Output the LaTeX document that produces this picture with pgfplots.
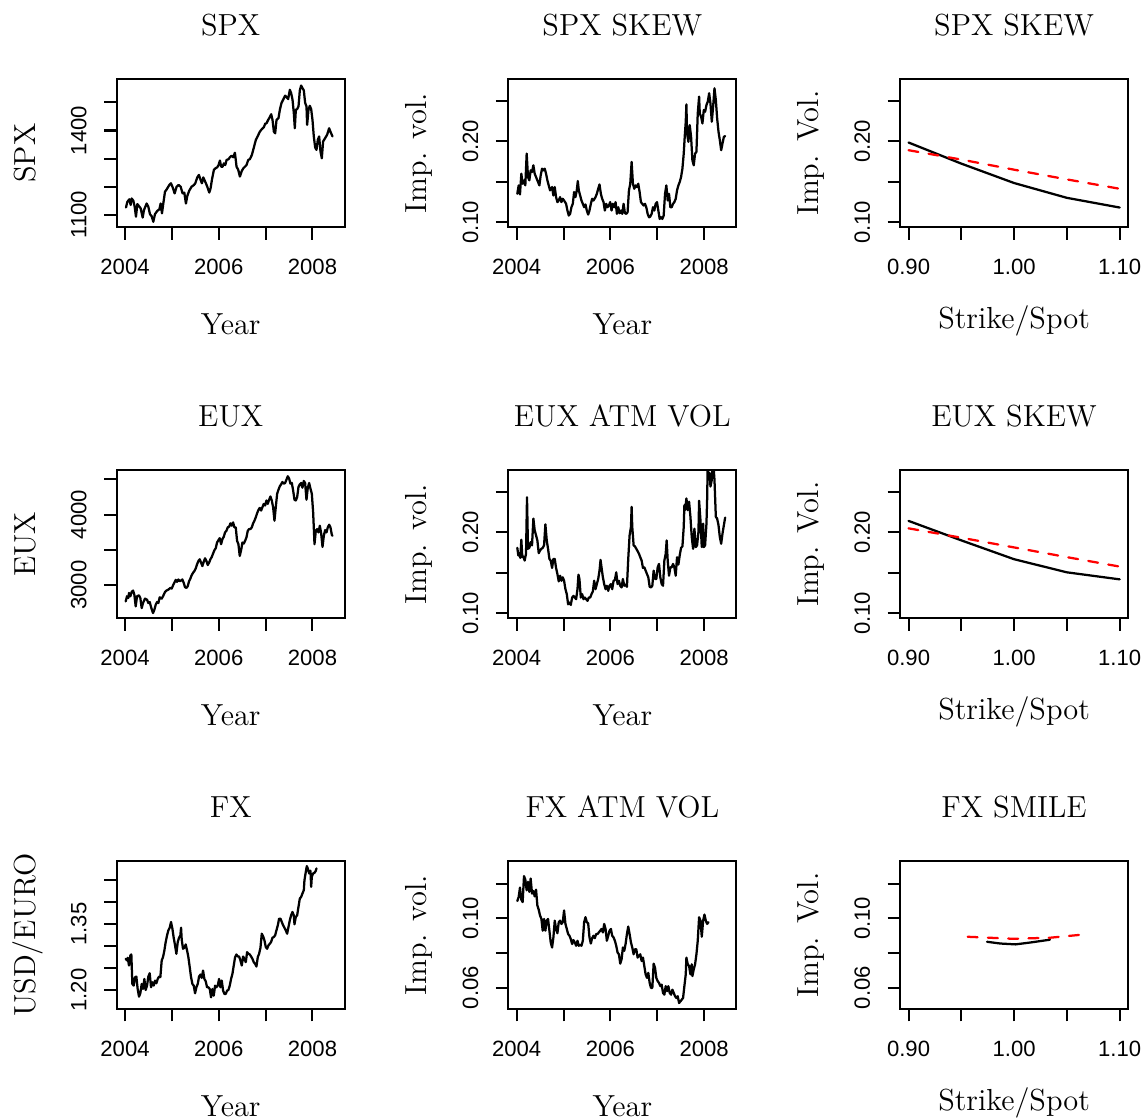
\documentclass[border=0pt]{standalone}
\usepackage{fontspec}
\usepackage{pgfplots}
\pgfplotsset{compat=1.18}
\newfontfamily\ticksf{Liberation Sans}
\newcommand{\labelfont}{\fontsize{13.5}{16}\selectfont}
\newcommand{\tickfont}{\ticksf\fontsize{9.8}{11}\selectfont}
\definecolor{rred}{RGB}{255,0,0}

\pgfplotsset{
  rpanel/.style={
    scale only axis, width=101.1pt, height=65.62pt,
    axis line style={line width=0.9pt},
    tick align=outside, xtick pos=left, ytick pos=left,
    major tick length=5.5pt,
    every tick/.append style={black, line width=0.9pt},
    scaled ticks=false,
    tick label style={font=\tickfont},
    xticklabel style={anchor=base, inner sep=0pt},
    yticklabel style={rotate=90, anchor=base, inner sep=0pt},
    xticklabel shift=15.5pt, yticklabel shift=7.9pt,
    title style={font=\labelfont, at={(axis description cs:0.5,1.205)}, anchor=base, inner sep=0pt, yshift=0pt},
    xlabel style={font=\labelfont, at={(axis description cs:0.5,-0.725)}, anchor=base, inner sep=0pt},
    ylabel style={font=\labelfont, at={(axis description cs:-0.358,0.5)}, anchor=base, inner sep=0pt},
    every axis plot/.append style={line width=1.0pt, line join=round, line cap=round},
  },
  yearaxis/.style={
    xmin=2003.823, xmax=2008.688,
    xtick={2004,2005,2006,2007,2008}, xticklabels={2004,,2006,,2008},
    xlabel={Year},
  },
  strikeaxis/.style={
    xmin=0.892, xmax=1.108,
    xtick={0.90,0.95,1.00,1.05,1.10}, xticklabels={0.90,,1.00,,1.10},
    xlabel={Strike/Spot},
    xlabel style={at={(axis description cs:0.5,-0.683)}},
    ylabel={Imp. Vol.},
  },
  volaxis/.style={
    ymin=0.0940, ymax=0.2770,
    ytick={0.10,0.15,0.20,0.25}, yticklabels={0.10,,0.20,},
  },
  fxvolaxis/.style={
    ymin=0.0476, ymax=0.1330,
    ytick={0.06,0.08,0.10,0.12}, yticklabels={0.06,,0.10,},
  },
  dat/.style={black},
  mkt/.style={rred, dash pattern=on 4.4pt off 4.6pt},
}

\begin{document}
\begin{tikzpicture}

% ---------------- row 1 ----------------
\begin{axis}[rpanel, yearaxis, at={(51.75pt,395.5pt)}, anchor=south west,
  title={SPX}, ylabel={SPX},
  ymin=1056, ymax=1583,
  ytick={1100,1200,1300,1400,1500}, yticklabels={1100,,,1400,}]
\addplot[dat] coordinates {
(2004.021,1126)(2004.050,1146)(2004.092,1155)(2004.121,1135)(2004.142,1158)(2004.178,1150)(2004.206,1129)(2004.234,1093)(2004.263,1138)(2004.306,1129)(2004.334,1123)(2004.377,1090)(2004.405,1117)(2004.462,1140)(2004.497,1129)(2004.533,1102)(2004.568,1095)(2004.604,1075)(2004.639,1102)(2004.689,1114)(2004.732,1119)(2004.760,1140)(2004.789,1105)(2004.817,1140)(2004.853,1182)(2004.888,1190)(2004.945,1206)(2004.980,1212)(2005.016,1198)(2005.059,1176)(2005.101,1200)(2005.144,1206)(2005.187,1200)(2005.229,1176)(2005.265,1179)(2005.300,1140)(2005.329,1167)(2005.371,1186)(2005.421,1200)(2005.471,1206)(2005.499,1212)(2005.542,1233)(2005.577,1242)(2005.613,1224)(2005.641,1212)(2005.670,1233)(2005.726,1212)(2005.755,1200)(2005.798,1179)(2005.826,1194)(2005.854,1224)(2005.897,1260)(2005.925,1265)(2005.968,1269)(2005.996,1277)(2006.025,1293)(2006.053,1271)(2006.082,1271)(2006.110,1283)(2006.139,1277)(2006.167,1295)(2006.210,1298)(2006.238,1305)(2006.274,1310)(2006.309,1305)(2006.345,1321)(2006.380,1271)(2006.416,1260)(2006.451,1236)(2006.487,1254)(2006.522,1265)(2006.558,1271)(2006.593,1277)(2006.629,1295)(2006.664,1298)(2006.707,1313)(2006.750,1340)(2006.792,1367)(2006.835,1381)(2006.877,1396)(2006.920,1405)(2006.963,1412)(2006.991,1424)(2007.020,1426)(2007.055,1438)(2007.091,1448)(2007.119,1458)(2007.147,1438)(2007.176,1396)(2007.204,1390)(2007.233,1438)(2007.275,1444)(2007.304,1474)(2007.339,1498)(2007.375,1510)(2007.417,1524)(2007.446,1519)(2007.481,1512)(2007.517,1545)(2007.545,1533)(2007.574,1510)(2007.602,1462)(2007.623,1408)(2007.645,1474)(2007.673,1476)(2007.702,1486)(2007.730,1543)(2007.758,1560)(2007.787,1551)(2007.815,1543)(2007.844,1498)(2007.872,1486)(2007.886,1420)(2007.915,1474)(2007.943,1488)(2007.972,1476)(2008.000,1438)(2008.028,1379)(2008.057,1340)(2008.085,1331)(2008.114,1367)(2008.142,1379)(2008.171,1325)(2008.199,1301)(2008.227,1361)(2008.270,1373)(2008.313,1385)(2008.355,1408)(2008.398,1390)(2008.427,1379)
};
\end{axis}

\begin{axis}[rpanel, yearaxis, volaxis, at={(225.4pt,395.5pt)}, anchor=south west,
  title={SPX SKEW}, ylabel={Imp. vol.}]
\addplot[dat] coordinates {
(2004.014,0.1352)(2004.043,0.1456)(2004.071,0.1344)(2004.100,0.1601)(2004.128,0.1476)(2004.157,0.1518)(2004.185,0.1456)(2004.214,0.1849)(2004.242,0.1559)(2004.271,0.1518)(2004.299,0.1642)(2004.328,0.1621)(2004.357,0.1704)(2004.385,0.1601)(2004.414,0.1559)(2004.442,0.1518)(2004.485,0.1456)(2004.513,0.1580)(2004.542,0.1663)(2004.570,0.1642)(2004.599,0.1663)(2004.627,0.1601)(2004.656,0.1518)(2004.684,0.1456)(2004.713,0.1394)(2004.756,0.1435)(2004.784,0.1331)(2004.813,0.1435)(2004.841,0.1311)(2004.870,0.1249)(2004.898,0.1269)(2004.927,0.1311)(2004.955,0.1249)(2004.984,0.1290)(2005.012,0.1269)(2005.055,0.1228)(2005.084,0.1145)(2005.112,0.1083)(2005.141,0.1104)(2005.169,0.1186)(2005.198,0.1228)(2005.226,0.1373)(2005.255,0.1311)(2005.283,0.1394)(2005.305,0.1510)(2005.326,0.1394)(2005.355,0.1331)(2005.383,0.1269)(2005.412,0.1228)(2005.440,0.1186)(2005.469,0.1220)(2005.497,0.1145)(2005.526,0.1095)(2005.554,0.1145)(2005.583,0.1228)(2005.611,0.1290)(2005.640,0.1269)(2005.683,0.1311)(2005.711,0.1352)(2005.740,0.1414)(2005.768,0.1468)(2005.797,0.1352)(2005.825,0.1290)(2005.854,0.1249)(2005.882,0.1145)(2005.911,0.1228)(2005.939,0.1186)(2005.968,0.1207)(2005.996,0.1249)(2006.025,0.1145)(2006.053,0.1228)(2006.082,0.1186)(2006.111,0.1249)(2006.139,0.1104)(2006.168,0.1186)(2006.196,0.1112)(2006.225,0.1145)(2006.253,0.1104)(2006.282,0.1228)(2006.310,0.1112)(2006.339,0.1104)(2006.367,0.1124)(2006.396,0.1394)(2006.424,0.1476)(2006.453,0.1746)(2006.481,0.1476)(2006.510,0.1414)(2006.538,0.1456)(2006.567,0.1435)(2006.595,0.1476)(2006.624,0.1373)(2006.652,0.1249)(2006.681,0.1228)(2006.709,0.1207)(2006.738,0.1228)(2006.766,0.1186)(2006.795,0.1104)(2006.824,0.1062)(2006.852,0.1070)(2006.881,0.1104)(2006.909,0.1186)(2006.938,0.1145)(2006.966,0.1228)(2006.995,0.1249)(2007.023,0.1145)(2007.052,0.1041)(2007.080,0.1062)(2007.109,0.1041)(2007.137,0.1083)(2007.166,0.1352)(2007.194,0.1456)(2007.223,0.1269)(2007.251,0.1352)(2007.280,0.1186)(2007.308,0.1186)(2007.337,0.1228)(2007.365,0.1249)(2007.394,0.1290)(2007.422,0.1394)(2007.451,0.1456)(2007.479,0.1497)(2007.508,0.1559)(2007.537,0.1663)(2007.565,0.1849)(2007.586,0.2056)(2007.608,0.2243)(2007.622,0.2458)(2007.636,0.2098)(2007.665,0.1994)(2007.693,0.2201)(2007.722,0.2056)(2007.750,0.1766)(2007.779,0.1704)(2007.807,0.1849)(2007.836,0.1870)(2007.864,0.2346)(2007.893,0.2554)(2007.907,0.2346)(2007.936,0.2305)(2007.964,0.2222)(2007.993,0.2388)(2008.021,0.2367)(2008.050,0.2450)(2008.078,0.2491)(2008.107,0.2595)(2008.135,0.2471)(2008.164,0.2243)(2008.192,0.2429)(2008.221,0.2657)(2008.250,0.2512)(2008.278,0.2284)(2008.307,0.2119)(2008.335,0.2015)(2008.364,0.1891)(2008.392,0.1974)(2008.421,0.2056)(2008.449,0.2065)
};
\end{axis}

\begin{axis}[rpanel, strikeaxis, volaxis, at={(399.1pt,395.5pt)}, anchor=south west,
  title={SPX SKEW}]
\addplot[dat] coordinates {(0.90,0.1986)(0.95,0.1725)(1.00,0.1485)(1.05,0.1302)(1.10,0.1182)};
\addplot[mkt] coordinates {(0.90,0.1891)(0.95,0.1775)(1.00,0.1650)(1.05,0.1530)(1.10,0.1414)};
\end{axis}

% ---------------- row 2 ----------------
\begin{axis}[rpanel, yearaxis, at={(51.75pt,222.1pt)}, anchor=south west,
  title={EUX}, ylabel={EUX},
  ymin=2533, ymax=4629,
  ytick={3000,3500,4000,4500}, yticklabels={3000,,4000,}]
\addplot[dat] coordinates {
(2004.014,2771)(2004.043,2843)(2004.071,2819)(2004.085,2890)(2004.114,2843)(2004.142,2905)(2004.171,2924)(2004.199,2867)(2004.228,2700)(2004.256,2843)(2004.299,2857)(2004.327,2819)(2004.356,2676)(2004.384,2748)(2004.427,2810)(2004.470,2795)(2004.498,2748)(2004.527,2762)(2004.562,2676)(2004.598,2605)(2004.626,2652)(2004.655,2724)(2004.683,2762)(2004.712,2748)(2004.740,2829)(2004.783,2810)(2004.811,2843)(2004.854,2905)(2004.883,2924)(2004.925,2938)(2004.968,2962)(2004.996,2952)(2005.039,3019)(2005.082,3076)(2005.110,3048)(2005.139,3081)(2005.167,3057)(2005.196,3067)(2005.224,3081)(2005.253,3033)(2005.281,2971)(2005.310,2962)(2005.338,2986)(2005.367,3057)(2005.395,3095)(2005.423,3143)(2005.452,3176)(2005.480,3200)(2005.509,3238)(2005.537,3295)(2005.566,3343)(2005.594,3367)(2005.623,3319)(2005.651,3271)(2005.680,3333)(2005.708,3381)(2005.737,3343)(2005.765,3286)(2005.794,3319)(2005.822,3367)(2005.851,3400)(2005.879,3448)(2005.907,3495)(2005.936,3524)(2005.964,3605)(2005.993,3638)(2006.021,3667)(2006.050,3581)(2006.078,3652)(2006.107,3686)(2006.135,3748)(2006.164,3771)(2006.192,3819)(2006.221,3829)(2006.249,3876)(2006.278,3843)(2006.306,3890)(2006.335,3819)(2006.363,3819)(2006.391,3629)(2006.420,3581)(2006.448,3414)(2006.477,3495)(2006.505,3605)(2006.534,3590)(2006.562,3629)(2006.591,3676)(2006.619,3771)(2006.648,3795)(2006.676,3795)(2006.705,3819)(2006.733,3876)(2006.762,3914)(2006.790,3962)(2006.819,4019)(2006.847,4067)(2006.875,4095)(2006.904,4057)(2006.932,4105)(2006.961,4152)(2006.989,4129)(2007.018,4200)(2007.046,4152)(2007.075,4210)(2007.103,4257)(2007.132,4200)(2007.160,4105)(2007.189,3914)(2007.217,4105)(2007.246,4295)(2007.274,4352)(2007.302,4400)(2007.331,4429)(2007.359,4462)(2007.388,4438)(2007.416,4448)(2007.445,4495)(2007.473,4543)(2007.502,4510)(2007.530,4438)(2007.559,4448)(2007.587,4343)(2007.616,4210)(2007.644,4200)(2007.673,4248)(2007.701,4390)(2007.730,4429)(2007.758,4448)(2007.786,4381)(2007.815,4476)(2007.843,4448)(2007.872,4210)(2007.900,4381)(2007.929,4448)(2007.957,4367)(2007.986,4295)(2008.014,4033)(2008.028,3819)(2008.043,3581)(2008.071,3771)(2008.100,3795)(2008.128,3748)(2008.157,3843)(2008.185,3733)(2008.214,3543)(2008.242,3700)(2008.270,3781)(2008.299,3748)(2008.327,3819)(2008.356,3857)(2008.384,3819)(2008.413,3714)(2008.427,3700)
};
\end{axis}

\begin{axis}[rpanel, yearaxis, volaxis, at={(225.4pt,222.1pt)}, anchor=south west,
  title={EUX ATM VOL}, ylabel={Imp. vol.}]
\addplot[dat] coordinates {
(2004.014,0.1810)(2004.036,0.1715)(2004.057,0.1736)(2004.078,0.1686)(2004.100,0.1910)(2004.121,0.1694)(2004.143,0.1702)(2004.171,0.1652)(2004.200,0.1736)(2004.221,0.2434)(2004.242,0.1798)(2004.271,0.1810)(2004.299,0.1881)(2004.328,0.1840)(2004.357,0.2172)(2004.385,0.2027)(2004.414,0.1964)(2004.442,0.1902)(2004.471,0.1744)(2004.499,0.1777)(2004.528,0.1798)(2004.556,0.1810)(2004.585,0.1840)(2004.613,0.2101)(2004.642,0.1902)(2004.670,0.1798)(2004.699,0.1673)(2004.727,0.1652)(2004.756,0.1561)(2004.784,0.1673)(2004.813,0.1673)(2004.841,0.1561)(2004.870,0.1486)(2004.898,0.1395)(2004.927,0.1465)(2004.955,0.1403)(2004.984,0.1445)(2005.012,0.1403)(2005.041,0.1299)(2005.070,0.1237)(2005.098,0.1112)(2005.127,0.1133)(2005.155,0.1104)(2005.184,0.1195)(2005.212,0.1216)(2005.241,0.1195)(2005.269,0.1175)(2005.298,0.1299)(2005.319,0.1478)(2005.340,0.1424)(2005.369,0.1195)(2005.398,0.1237)(2005.426,0.1175)(2005.455,0.1195)(2005.483,0.1175)(2005.512,0.1154)(2005.540,0.1195)(2005.569,0.1195)(2005.597,0.1237)(2005.626,0.1270)(2005.654,0.1403)(2005.683,0.1299)(2005.711,0.1362)(2005.740,0.1424)(2005.768,0.1528)(2005.790,0.1661)(2005.811,0.1569)(2005.840,0.1445)(2005.868,0.1362)(2005.897,0.1299)(2005.925,0.1341)(2005.954,0.1278)(2005.982,0.1341)(2006.011,0.1362)(2006.039,0.1299)(2006.068,0.1403)(2006.096,0.1411)(2006.125,0.1507)(2006.153,0.1362)(2006.182,0.1403)(2006.210,0.1341)(2006.239,0.1320)(2006.267,0.1424)(2006.296,0.1341)(2006.324,0.1353)(2006.353,0.1328)(2006.381,0.1673)(2006.410,0.1964)(2006.439,0.2068)(2006.453,0.2317)(2006.467,0.2068)(2006.496,0.1840)(2006.524,0.1827)(2006.553,0.1798)(2006.581,0.1769)(2006.610,0.1736)(2006.638,0.1694)(2006.667,0.1652)(2006.695,0.1561)(2006.724,0.1569)(2006.752,0.1528)(2006.781,0.1486)(2006.809,0.1445)(2006.838,0.1328)(2006.866,0.1320)(2006.895,0.1341)(2006.923,0.1528)(2006.952,0.1424)(2006.980,0.1424)(2007.009,0.1569)(2007.037,0.1611)(2007.066,0.1445)(2007.094,0.1362)(2007.123,0.1341)(2007.152,0.1652)(2007.180,0.1736)(2007.201,0.1902)(2007.223,0.1652)(2007.251,0.1465)(2007.280,0.1569)(2007.308,0.1569)(2007.337,0.1611)(2007.365,0.1569)(2007.394,0.1465)(2007.422,0.1694)(2007.451,0.1603)(2007.479,0.1715)(2007.508,0.1810)(2007.537,0.1827)(2007.565,0.2068)(2007.579,0.2338)(2007.594,0.2276)(2007.622,0.2421)(2007.651,0.2276)(2007.679,0.2380)(2007.708,0.2193)(2007.736,0.1943)(2007.765,0.1798)(2007.793,0.2047)(2007.822,0.1819)(2007.850,0.1840)(2007.879,0.2006)(2007.893,0.2392)(2007.922,0.2151)(2007.950,0.1819)(2007.979,0.2110)(2007.993,0.1819)(2008.021,0.1840)(2008.050,0.2110)(2008.064,0.2401)(2008.078,0.2880)(2008.093,0.2650)(2008.121,0.2733)(2008.135,0.2567)(2008.164,0.2650)(2008.192,0.2900)(2008.221,0.2650)(2008.250,0.2193)(2008.278,0.2172)(2008.307,0.2089)(2008.335,0.1943)(2008.364,0.1860)(2008.392,0.1985)(2008.421,0.2089)(2008.449,0.2184)
};
\end{axis}

\begin{axis}[rpanel, strikeaxis, volaxis, at={(399.1pt,222.1pt)}, anchor=south west,
  title={EUX SKEW}]
\addplot[dat] coordinates {(0.90,0.2143)(0.95,0.1902)(1.00,0.1669)(1.05,0.1507)(1.10,0.1420)};
\addplot[mkt] coordinates {(0.90,0.2051)(0.95,0.1935)(1.00,0.1815)(1.05,0.1695)(1.10,0.1578)};
\end{axis}

% ---------------- row 3 ----------------
\begin{axis}[rpanel, yearaxis, at={(51.75pt,48.8pt)}, anchor=south west,
  title={FX}, ylabel={USD/EURO},
  ymin=1.1566, ymax=1.4934,
  ytick={1.20,1.25,1.30,1.35,1.40,1.45}, yticklabels={1.20,,,1.35,,}]
\addplot[dat] coordinates {
(2004.014,1.2709)(2004.043,1.2671)(2004.057,1.2732)(2004.085,1.2556)(2004.114,1.2785)(2004.135,1.2808)(2004.157,1.2137)(2004.185,1.2099)(2004.214,1.2290)(2004.242,1.2305)(2004.270,1.2023)(2004.299,1.1848)(2004.327,1.1924)(2004.356,1.2137)(2004.384,1.2023)(2004.413,1.2251)(2004.441,1.2000)(2004.470,1.2099)(2004.498,1.2305)(2004.527,1.2381)(2004.555,1.2061)(2004.584,1.2175)(2004.612,1.2099)(2004.641,1.2213)(2004.669,1.2152)(2004.698,1.2251)(2004.726,1.2305)(2004.754,1.2290)(2004.783,1.2671)(2004.811,1.2747)(2004.840,1.2899)(2004.868,1.3090)(2004.897,1.3242)(2004.925,1.3356)(2004.954,1.3417)(2004.982,1.3547)(2005.011,1.3394)(2005.039,1.3189)(2005.068,1.3013)(2005.096,1.2823)(2005.125,1.3090)(2005.153,1.3189)(2005.181,1.3242)(2005.196,1.3417)(2005.210,1.3143)(2005.238,1.2937)(2005.267,1.2960)(2005.295,1.3036)(2005.324,1.2899)(2005.352,1.2747)(2005.381,1.2518)(2005.409,1.2290)(2005.438,1.2137)(2005.466,1.2099)(2005.495,1.1924)(2005.523,1.2061)(2005.552,1.2137)(2005.580,1.2305)(2005.609,1.2351)(2005.637,1.2274)(2005.665,1.2442)(2005.694,1.2251)(2005.722,1.2198)(2005.751,1.2061)(2005.779,1.2061)(2005.808,1.2023)(2005.836,1.1832)(2005.865,1.2023)(2005.893,1.1870)(2005.922,1.2099)(2005.950,1.2061)(2005.979,1.2099)(2006.007,1.2251)(2006.036,1.2061)(2006.064,1.2213)(2006.093,1.1985)(2006.121,1.1909)(2006.149,1.1909)(2006.178,1.1985)(2006.206,1.2000)(2006.235,1.2099)(2006.263,1.2251)(2006.292,1.2366)(2006.320,1.2556)(2006.349,1.2747)(2006.377,1.2808)(2006.406,1.2762)(2006.434,1.2762)(2006.463,1.2671)(2006.491,1.2556)(2006.520,1.2762)(2006.548,1.2709)(2006.577,1.2632)(2006.605,1.2861)(2006.633,1.2823)(2006.662,1.2808)(2006.690,1.2762)(2006.719,1.2709)(2006.747,1.2632)(2006.776,1.2594)(2006.804,1.2533)(2006.833,1.2747)(2006.861,1.2823)(2006.890,1.2960)(2006.918,1.3280)(2006.947,1.3219)(2006.975,1.3128)(2007.004,1.2975)(2007.032,1.2937)(2007.060,1.3013)(2007.089,1.3052)(2007.117,1.3090)(2007.146,1.3189)(2007.174,1.3204)(2007.203,1.3242)(2007.231,1.3356)(2007.260,1.3471)(2007.288,1.3623)(2007.317,1.3623)(2007.345,1.3547)(2007.374,1.3471)(2007.402,1.3417)(2007.431,1.3356)(2007.459,1.3280)(2007.488,1.3433)(2007.516,1.3585)(2007.544,1.3699)(2007.573,1.3775)(2007.601,1.3699)(2007.616,1.3494)(2007.644,1.3661)(2007.673,1.3699)(2007.701,1.3890)(2007.730,1.4080)(2007.758,1.4118)(2007.786,1.4195)(2007.815,1.4271)(2007.829,1.4499)(2007.858,1.4690)(2007.879,1.4819)(2007.900,1.4766)(2007.929,1.4652)(2007.957,1.4713)(2007.972,1.4347)(2007.986,1.4576)(2008.014,1.4652)(2008.043,1.4667)(2008.071,1.4713)(2008.085,1.4766)
};
\end{axis}

\begin{axis}[rpanel, yearaxis, fxvolaxis, at={(225.4pt,48.8pt)}, anchor=south west,
  title={FX ATM VOL}, ylabel={Imp. vol.}]
\addplot[dat] coordinates {
(2004.014,0.1099)(2004.043,0.1122)(2004.071,0.1177)(2004.100,0.1107)(2004.128,0.1093)(2004.157,0.1243)(2004.185,0.1223)(2004.214,0.1161)(2004.242,0.1210)(2004.271,0.1152)(2004.299,0.1229)(2004.328,0.1142)(2004.357,0.1157)(2004.385,0.1126)(2004.414,0.1165)(2004.442,0.1074)(2004.471,0.1049)(2004.499,0.1016)(2004.528,0.0996)(2004.556,0.0928)(2004.585,0.0996)(2004.613,0.0928)(2004.642,0.0986)(2004.670,0.0996)(2004.699,0.0928)(2004.727,0.0860)(2004.756,0.0831)(2004.784,0.0889)(2004.813,0.0986)(2004.841,0.0938)(2004.870,0.0913)(2004.898,0.0977)(2004.927,0.0986)(2004.955,0.0967)(2004.984,0.0977)(2005.012,0.1045)(2005.041,0.0967)(2005.070,0.0938)(2005.098,0.0909)(2005.127,0.0899)(2005.155,0.0880)(2005.184,0.0851)(2005.212,0.0874)(2005.241,0.0860)(2005.269,0.0841)(2005.298,0.0870)(2005.326,0.0841)(2005.355,0.0847)(2005.383,0.0841)(2005.412,0.0870)(2005.440,0.0977)(2005.469,0.1006)(2005.497,0.0977)(2005.526,0.0971)(2005.554,0.0889)(2005.583,0.0854)(2005.611,0.0885)(2005.640,0.0899)(2005.668,0.0885)(2005.697,0.0909)(2005.725,0.0909)(2005.754,0.0918)(2005.783,0.0928)(2005.811,0.0938)(2005.840,0.0918)(2005.868,0.0967)(2005.897,0.0938)(2005.925,0.0870)(2005.954,0.0899)(2005.982,0.0928)(2006.011,0.0938)(2006.039,0.0899)(2006.068,0.0889)(2006.096,0.0870)(2006.125,0.0841)(2006.153,0.0802)(2006.182,0.0792)(2006.210,0.0738)(2006.239,0.0763)(2006.267,0.0831)(2006.296,0.0812)(2006.324,0.0851)(2006.353,0.0909)(2006.381,0.0952)(2006.410,0.0909)(2006.439,0.0860)(2006.467,0.0831)(2006.496,0.0792)(2006.524,0.0821)(2006.553,0.0821)(2006.581,0.0773)(2006.610,0.0783)(2006.638,0.0792)(2006.667,0.0753)(2006.695,0.0773)(2006.724,0.0724)(2006.752,0.0676)(2006.781,0.0656)(2006.809,0.0685)(2006.838,0.0627)(2006.866,0.0598)(2006.895,0.0598)(2006.923,0.0738)(2006.952,0.0715)(2006.980,0.0656)(2007.009,0.0637)(2007.037,0.0627)(2007.066,0.0608)(2007.094,0.0617)(2007.123,0.0569)(2007.152,0.0559)(2007.180,0.0608)(2007.209,0.0579)(2007.237,0.0608)(2007.266,0.0569)(2007.294,0.0559)(2007.323,0.0588)(2007.351,0.0569)(2007.380,0.0550)(2007.408,0.0540)(2007.437,0.0550)(2007.465,0.0511)(2007.494,0.0520)(2007.522,0.0530)(2007.551,0.0540)(2007.579,0.0608)(2007.608,0.0676)(2007.622,0.0773)(2007.651,0.0734)(2007.679,0.0724)(2007.708,0.0676)(2007.736,0.0734)(2007.750,0.0666)(2007.779,0.0705)(2007.807,0.0734)(2007.836,0.0792)(2007.864,0.0870)(2007.893,0.1006)(2007.922,0.0986)(2007.950,0.0893)(2007.979,0.0986)(2008.007,0.1021)(2008.036,0.0986)(2008.064,0.0967)(2008.093,0.0977)
};
\end{axis}

\begin{axis}[rpanel, strikeaxis, fxvolaxis, at={(399.1pt,48.8pt)}, anchor=south west,
  title={FX SMILE}]
\addplot[dat] coordinates {(0.9744,0.0864)(0.9870,0.0854)(1.0013,0.0849)(1.0155,0.0860)(1.0339,0.0876)};
\addplot[mkt] coordinates {(0.956,0.0893)(1.000,0.0881)(1.035,0.0888)(1.071,0.0909)};
\end{axis}

\pgfresetboundingbox
\useasboundingbox (0pt,0pt) rectangle (506.8pt,496.2pt);
\end{tikzpicture}
\end{document}
